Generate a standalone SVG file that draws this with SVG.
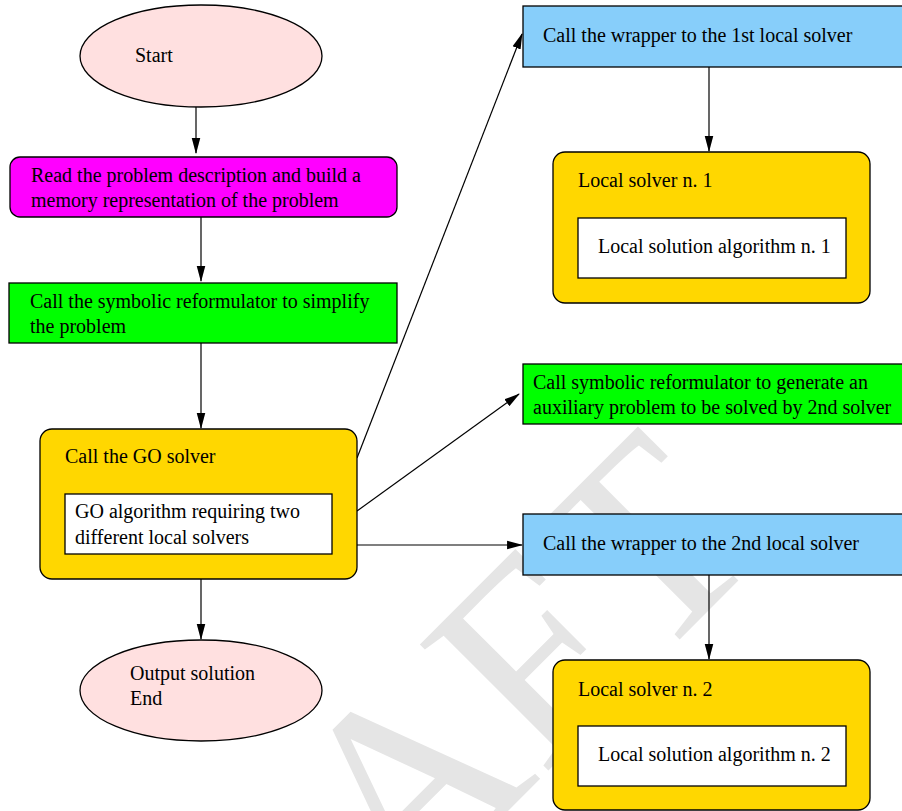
<svg xmlns="http://www.w3.org/2000/svg" width="902" height="811" viewBox="0 0 902 811">
<style>
.t{font-family:"Liberation Serif","Times New Roman",serif;font-size:20px;fill:#000}
.n{stroke:#000;stroke-width:1.3}
.e{stroke:#000;stroke-width:1.2;fill:none}
.wm{font-family:"Liberation Serif","Times New Roman",serif;font-size:275px;fill:#e5e5e5}
</style>
<defs>
<marker id="ah" markerUnits="userSpaceOnUse" markerWidth="16" markerHeight="10" viewBox="0 0 15 8" refX="14" refY="4" orient="auto">
<path d="M0,0 L15,4 L0,8 z" fill="#000"/>
</marker>
</defs>
<rect width="902" height="811" fill="#fff"/>
<text class="wm" x="131" y="1188" transform="rotate(-45 131 1188)">DRAFT</text>
<g id="connectors">
<path class="e" d="M196,107 V153" marker-end="url(#ah)"/>
<path class="e" d="M201,217 V281" marker-end="url(#ah)"/>
<path class="e" d="M201,343 V428" marker-end="url(#ah)"/>
<path class="e" d="M201,579 V639" marker-end="url(#ah)"/>
<path class="e" d="M357,458 L522,34" marker-end="url(#ah)"/>
<path class="e" d="M357,511 L519,394" marker-end="url(#ah)"/>
<path class="e" d="M357,545 L522,545" marker-end="url(#ah)"/>
<path class="e" d="M709,67 V151" marker-end="url(#ah)"/>
<path class="e" d="M709,575 V659" marker-end="url(#ah)"/>
</g>
<g id="start">
<ellipse class="n" cx="201" cy="56" rx="121" ry="51" fill="#ffe0e0"/>
<text class="t" x="135" y="62">Start</text>
</g>
<g id="read">
<rect class="n" x="10" y="157" width="387" height="60" rx="10" fill="#ff00ff"/>
<text class="t" x="31" y="182">Read the problem description and build a</text>
<text class="t" x="31" y="207">memory representation of the problem</text>
</g>
<g id="simplify">
<rect class="n" x="9" y="283" width="388" height="60" fill="#00ff00"/>
<text class="t" x="30" y="308">Call the symbolic reformulator to simplify</text>
<text class="t" x="30" y="333">the problem</text>
</g>
<g id="go">
<rect class="n" x="40" y="429" width="317" height="150" rx="12" fill="#ffd700"/>
<text class="t" x="65" y="463">Call the GO solver</text>
<rect class="n" x="65" y="494" width="267" height="60" fill="#fff"/>
<text class="t" x="75" y="518">GO algorithm requiring two</text>
<text class="t" x="75" y="544">different local solvers</text>
</g>
<g id="output">
<ellipse class="n" cx="201" cy="690.5" rx="121" ry="50.5" fill="#ffe0e0"/>
<text class="t" x="130" y="680">Output solution</text>
<text class="t" x="130" y="705">End</text>
</g>
<g id="wrapper1">
<rect class="n" x="523" y="6" width="390" height="61" fill="#87cefa"/>
<text class="t" x="543" y="42">Call the wrapper to the 1st local solver</text>
</g>
<g id="local1">
<rect class="n" x="553" y="152" width="317" height="151" rx="12" fill="#ffd700"/>
<text class="t" x="578" y="187">Local solver n. 1</text>
<rect class="n" x="578" y="218" width="268" height="60" fill="#fff"/>
<text class="t" x="598" y="253">Local solution algorithm n. 1</text>
</g>
<g id="auxiliary">
<rect class="n" x="523" y="364" width="390" height="60" fill="#00ff00"/>
<text class="t" x="533" y="389">Call symbolic reformulator to generate an</text>
<text class="t" x="533" y="414">auxiliary problem to be solved by 2nd solver</text>
</g>
<g id="wrapper2">
<rect class="n" x="523" y="514" width="390" height="61" fill="#87cefa"/>
<text class="t" x="543" y="550">Call the wrapper to the 2nd local solver</text>
</g>
<g id="local2">
<rect class="n" x="553" y="660" width="317" height="150" rx="12" fill="#ffd700"/>
<text class="t" x="578" y="696">Local solver n. 2</text>
<rect class="n" x="578" y="726" width="268" height="60" fill="#fff"/>
<text class="t" x="598" y="761">Local solution algorithm n. 2</text>
</g>
</svg>
